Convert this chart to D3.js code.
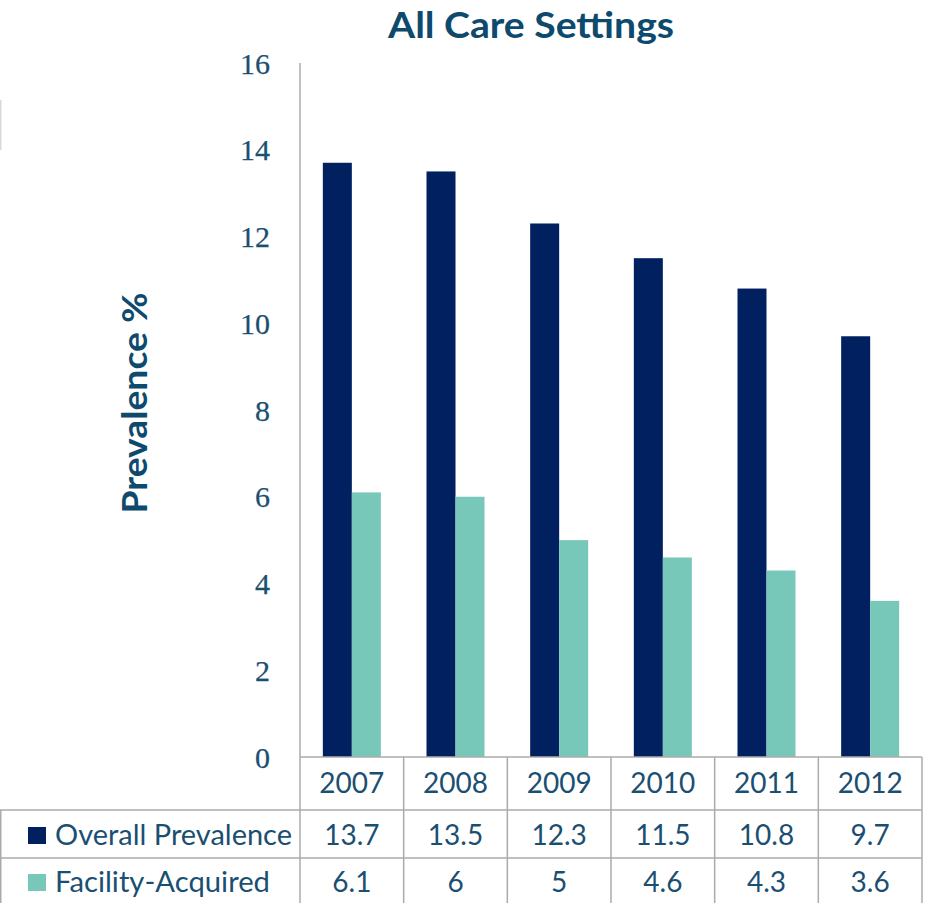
<!DOCTYPE html>
<html><head><meta charset="utf-8">
<script src="https://cdn.jsdelivr.net/npm/d3@7"></script>
<style>body{margin:0;background:#fff}svg{display:block}</style>
</head><body>
<script>
const years = ["2007","2008","2009","2010","2011","2012"];
const seriesNames = ["Overall Prevalence","Facility-Acquired"];
const overall = [13.7,13.5,12.3,11.5,10.8,9.7];
const facility = [6.1,6,5,4.6,4.3,3.6];
const yTicks = [0,2,4,6,8,10,12,14,16];
const colors = ["#002060","#77c8b9"];
const textColor = "#1b4f72";
const titleColor = "#0d4a6e";
const gridColor = "#ababab";

const W = 927, H = 903;
const svg = d3.select("body").append("svg").attr("width", W).attr("height", H);

const x0 = 300, x1 = 922, yTop = 63, yBase = 757;
const x = d3.scaleBand().domain(years).range([x0, x1]).padding(0);
const xs = d3.scaleBand().domain(seriesNames).range([0, x.bandwidth()]).paddingInner(0).paddingOuter(0.787);
const y = d3.scaleLinear().domain([0,16]).range([yBase, yTop]);

const data = years.map((yr,i)=>({year: yr, values:[{s:seriesNames[0], v:overall[i]},{s:seriesNames[1], v:facility[i]}]}));

// title
svg.append("text").attr("x", 531).attr("y", 38).attr("text-anchor","middle")
  .attr("font-family","Lato, 'Open Sans', sans-serif").attr("font-weight","bold").attr("font-size",36)
  .attr("fill", titleColor).attr("textLength",286).attr("lengthAdjust","spacingAndGlyphs")
  .text("All Care Settings");

// y label
svg.append("text").attr("transform","translate(147,403) rotate(-90)").attr("text-anchor","middle")
  .attr("font-family","Lato, 'Open Sans', sans-serif").attr("font-weight","bold").attr("font-size",34)
  .attr("fill", titleColor).attr("textLength",221).attr("lengthAdjust","spacingAndGlyphs")
  .text("Prevalence %");

// y axis
const yAxis = d3.axisLeft(y).tickValues(yTicks).tickSize(0).tickPadding(30).tickFormat(d3.format("d"));
const gy = svg.append("g").attr("transform",`translate(${x0},0)`).call(yAxis);
gy.select(".domain").remove();
gy.attr("font-family","'Liberation Serif','Times New Roman',serif").attr("font-size",30);
gy.selectAll("text").attr("font-family","'Liberation Serif','Times New Roman',serif").attr("font-size",30)
  .attr("fill", textColor).attr("stroke", textColor).attr("stroke-width",0.25).attr("dy","0.34em");

// bars
const g = svg.append("g");
g.selectAll("g.cat").data(data).join("g").attr("class","cat")
  .attr("transform", d=>`translate(${x(d.year)},0)`)
  .selectAll("rect").data(d=>d.values).join("rect")
  .attr("x", d=>xs(d.s)).attr("width", xs.bandwidth())
  .attr("y", d=>y(d.v)).attr("height", d=>y(0)-y(d.v))
  .attr("fill", (d,i)=>colors[i]);

// axis lines & table grid
const lines = svg.append("g").attr("stroke", gridColor).attr("stroke-width",1.5).attr("fill","none");
lines.append("line").attr("x1",x0).attr("x2",x0).attr("y1",yTop).attr("y2",H);
lines.append("line").attr("x1",x0).attr("x2",x1).attr("y1",yBase).attr("y2",yBase);
const rowY = [yBase, 810, 858, 903];
lines.append("line").attr("x1",0).attr("x2",x1).attr("y1",rowY[1]).attr("y2",rowY[1]);
lines.append("line").attr("x1",0).attr("x2",x1).attr("y1",rowY[2]).attr("y2",rowY[2]);
lines.append("line").attr("x1",0.75).attr("x2",0.75).attr("y1",rowY[1]).attr("y2",H);
years.forEach(yr=>{
  lines.append("line").attr("x1",x(yr)+x.bandwidth()).attr("x2",x(yr)+x.bandwidth()).attr("y1",yBase).attr("y2",H);
});
// small artifact line at left edge
svg.append("line").attr("x1",0.75).attr("x2",0.75).attr("y1",100).attr("y2",150).attr("stroke","#d9d9d9").attr("stroke-width",1.5);

// table text
const tf = "Lato, 'Open Sans', sans-serif";
svg.append("g").selectAll("text").data(years).join("text")
  .attr("x", d=>x(d)+x.bandwidth()/2).attr("y",793).attr("text-anchor","middle")
  .attr("font-family",tf).attr("font-size",28).attr("fill",textColor).text(d=>d);
const rows = [overall, facility];
const rowBase = [845, 892];
const labelLen = [237, 215];
rows.forEach((vals, r)=>{
  svg.append("g").selectAll("text").data(vals).join("text")
    .attr("x", (d,i)=>x(years[i])+x.bandwidth()/2).attr("y",rowBase[r]).attr("text-anchor","middle")
    .attr("font-family",tf).attr("font-size",28).attr("fill",textColor).text(d=>d);
  svg.append("rect").attr("x",28).attr("y",rowBase[r]-18).attr("width",18).attr("height",17).attr("fill",colors[r]);
  svg.append("text").attr("x",55).attr("y",rowBase[r]).attr("font-family",tf).attr("font-size",28)
    .attr("fill",textColor).attr("textLength",labelLen[r]).attr("lengthAdjust","spacingAndGlyphs").text(seriesNames[r]);
});
</script>
</body></html>
